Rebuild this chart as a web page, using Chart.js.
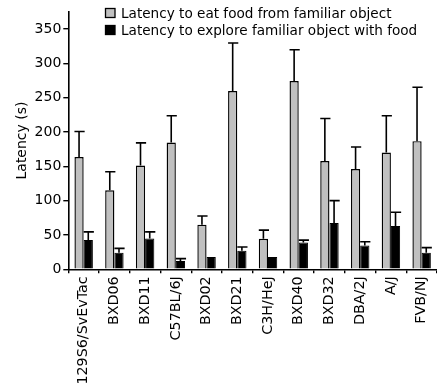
<!DOCTYPE html>
<html>
<head>
<meta charset="utf-8">
<script src="https://cdn.jsdelivr.net/npm/chart.js@4/dist/chart.umd.min.js"></script>
<style>
html,body{margin:0;padding:0;background:#fff;}
#wrap{width:437px;height:391px;position:relative;}
</style>
</head>
<body>
<div id="wrap"><canvas id="c" width="437" height="391"></canvas></div>
<script>
const categories = ['129S6/SvEvTac','BXD06','BXD11','C57BL/6J','BXD02','BXD21','C3H/HeJ','BXD40','BXD32','DBA/2J','A/J','FVB/NJ'];
const seriesNames = ['Latency to eat food from familiar object','Latency to explore familiar object with food'];
const eatFood = [163.5, 115, 151, 184.5, 65, 259.5, 44.5, 274, 157.5, 146, 170, 186.5];
const eatFoodErr = [37, 27, 33, 39, 12.5, 70, 12.5, 45.5, 62, 32, 53.5, 78.5];
const exploreObject = [42.5, 24, 45, 12, 18, 27, 18, 39, 67.5, 34.5, 63, 24];
const exploreObjectErr = [12, 6.5, 9.5, 3.5, 0, 5.5, 0, 3.5, 32.5, 5.5, 20, 7.5];
const yTicks = [0, 50, 100, 150, 200, 250, 300, 350];
const yAxisTitle = 'Latency (s)';

const FONT = '"DejaVu Sans", sans-serif';

const errorBars = {
  id: 'errorBars',
  afterDatasetsDraw(chart) {
    const ctx = chart.ctx;
    const ys = chart.scales.y;
    chart.data.datasets.forEach((ds, di) => {
      const meta = chart.getDatasetMeta(di);
      meta.data.forEach((el, i) => {
        const e = ds.errors[i];
        if (!e) return;
        const top = ys.getPixelForValue(ds.data[i] + e);
        const half = el.width / 2;
        ctx.save();
        ctx.strokeStyle = '#000';
        ctx.lineWidth = 1.6;
        ctx.beginPath();
        ctx.moveTo(el.x, el.y);
        ctx.lineTo(el.x, top);
        ctx.moveTo(el.x - half, top);
        ctx.lineTo(el.x + half + 1, top);
        ctx.stroke();
        ctx.restore();
      });
    });
  }
};

const legendBoxes = {
  id: 'legendBoxes',
  afterDraw(chart) {
    const ctx = chart.ctx;
    ctx.save();
    chart.data.datasets.forEach((ds, i) => {
      const y = 8.5 + i * 17;
      ctx.fillStyle = ds.backgroundColor;
      ctx.fillRect(105.5, y, 9.5, 9);
      ctx.strokeStyle = '#000';
      ctx.lineWidth = 1.3;
      ctx.strokeRect(105.5, y, 9.5, 9);
      ctx.fillStyle = '#000';
      ctx.font = '13.6px ' + FONT;
      ctx.textBaseline = 'alphabetic';
      ctx.textAlign = 'left';
      ctx.fillText(ds.label, 121, y + 9.8);
    });
    ctx.restore();
  }
};

new Chart(document.getElementById('c'), {
  type: 'bar',
  data: {
    labels: categories,
    datasets: [
      { label: seriesNames[0], data: eatFood, errors: eatFoodErr, backgroundColor: '#c0c0c0', borderColor: '#000', borderWidth: 1.4, borderSkipped: 'bottom' },
      { label: seriesNames[1], data: exploreObject, errors: exploreObjectErr, backgroundColor: '#000000', borderColor: '#000', borderWidth: 1, borderSkipped: 'bottom' }
    ]
  },
  options: {
    responsive: false,
    animation: false,
    events: [],
    layout: { padding: { top: 11.7, right: 0, left: 0, bottom: 0 } },
    datasets: { bar: { categoryPercentage: 0.6, barPercentage: 1.0 } },
    plugins: { legend: { display: false }, tooltip: { enabled: false } },
    scales: {
      x: {
        offset: true,
        grid: { display: true, drawOnChartArea: false, drawTicks: true, tickLength: 4, color: '#000', lineWidth: 1.4, offset: true },
        border: { display: true, color: '#000', width: 1.6 },
        ticks: { color: '#000', font: { family: FONT, size: 14.3 }, minRotation: 90, maxRotation: 90, padding: 3, autoSkip: false },
        afterFit(scale) { scale.height = 391 - 269.3; scale.paddingLeft = 0; scale.paddingRight = 0; }
      },
      y: {
        min: 0, max: 375,
        afterBuildTicks(scale) { scale.ticks = yTicks.map(v => ({ value: v })); },
        grid: { display: true, drawOnChartArea: false, drawTicks: true, tickLength: 5, color: '#000', lineWidth: 1.4 },
        border: { display: true, color: '#000', width: 1.6 },
        ticks: { color: '#000', font: { family: FONT, size: 14 }, padding: 2 },
        title: { display: true, text: yAxisTitle, color: '#000', font: { family: FONT, size: 14 }, padding: { top: 14, bottom: 0 } },
        afterFit(scale) { scale.width = 68.3; scale.paddingTop = 0; scale.paddingBottom = 0; }
      }
    }
  },
  plugins: [errorBars, legendBoxes]
});
</script>
</body>
</html>
